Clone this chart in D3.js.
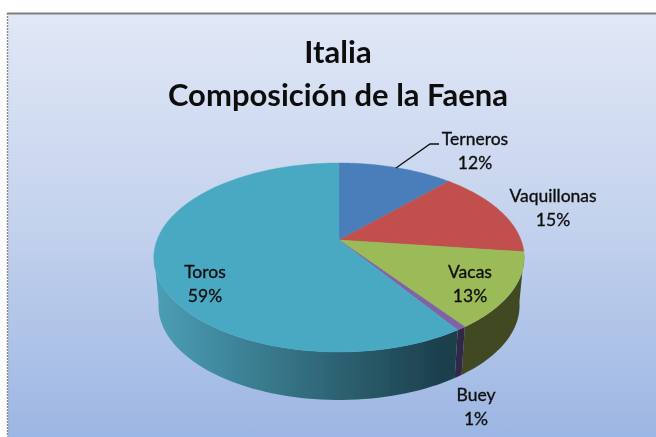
<!DOCTYPE html>
<html lang="es">
<head>
<meta charset="utf-8">
<title>Italia - Composición de la Faena</title>
<style>
  html, body { margin: 0; padding: 0; background: #fff; }
  svg { display: block; }
  text { font-family: Lato, "Open Sans", sans-serif; fill: #111; }
</style>
<script src="https://d3js.org/d3.v7.min.js"></script>
</head>
<body>
<div class="chart"></div>
<script>
const categories = ["Terneros", "Vaquillonas", "Vacas", "Buey", "Toros"];
const shares = [12, 15, 13, 0.7, 59.3];
const topColors = ["#4a7ebb", "#c0504d", "#9bbb59", "#8064a2", "#4aa9c3"];
const titleLines = ["Italia", "Composición de la Faena"];

const width = 656, height = 437;

// pie seen in perspective: apex is not the middle of the ellipse
const apex = { x: 339, y: 240 },
  radX = 182, radY = 91.3, persp = 0.185, depth = 48, shrink = 0.975;

const project = a => {
  const u = Math.sin(a), v = Math.cos(a), w = 1 + persp * v;
  return [apex.x + radX * u / w, apex.y - radY * v / w];
};
const lower = p => [apex.x + (p[0] - apex.x) * shrink, p[1] + depth];

const rim = (a0, a1) => d3.range(0, 61).map(i => project(a0 + (a1 - a0) * i / 60));
const line = d3.line();

const svg = d3.select(".chart").append("svg")
  .attr("width", width)
  .attr("height", height);

const defs = svg.append("defs");

const bg = defs.append("linearGradient").attr("id", "bg")
  .attr("x1", 0).attr("y1", 0).attr("x2", 0).attr("y2", 1);
bg.append("stop").attr("offset", "0%").attr("stop-color", "#e1e8f6");
bg.append("stop").attr("offset", "50%").attr("stop-color", "#c3d2ed");
bg.append("stop").attr("offset", "100%").attr("stop-color", "#9cb6e3");

const wall = defs.append("linearGradient").attr("id", "wallToros")
  .attr("gradientUnits", "userSpaceOnUse")
  .attr("x1", 153).attr("y1", 0).attr("x2", 524).attr("y2", 0);
wall.append("stop").attr("offset", "0%").attr("stop-color", "#4b9fb7");
wall.append("stop").attr("offset", "50%").attr("stop-color", "#2d6272");
wall.append("stop").attr("offset", "78%").attr("stop-color", "#1c3f4c");
wall.append("stop").attr("offset", "100%").attr("stop-color", "#1c3f4c");

defs.append("filter").attr("id", "soft")
  .append("feGaussianBlur").attr("stdDeviation", 0.45);

// chart area, the frame is only visible on top and left
svg.append("rect")
  .attr("x", 8).attr("y", 14)
  .attr("width", width - 8).attr("height", height - 14)
  .attr("fill", "url(#bg)");
svg.append("path")
  .attr("d", line([[7, 13.5], [width, 13.5]]))
  .attr("stroke", "#808080")
  .attr("stroke-width", 2);
svg.append("path")
  .attr("d", line([[7.5, 13], [7.5, height]]))
  .attr("stroke", "#8a8a8a")
  .attr("stroke-width", 1.4)
  .attr("stroke-dasharray", "2 1");

const chart = svg.append("g").attr("filter", "url(#soft)");

const slices = d3.pie().sort(null).value(d => d)(shares);

// side walls, only the part of the rim facing the viewer
const turnRight = 1.72, turnLeft = 2 * Math.PI - 1.72;
const wallFill = ["#404a22", "#404a22", "#404a22", "#33284a", "url(#wallToros)"];

chart.append("g").selectAll("path")
  .data(slices)
  .join("path")
  .attr("d", d => {
    const a0 = Math.max(d.startAngle, turnRight), a1 = Math.min(d.endAngle, turnLeft);
    if (a1 <= a0) return null;
    const edge = rim(a0, a1);
    return line(edge.concat(edge.map(lower).reverse())) + "Z";
  })
  .attr("fill", (d, i) => wallFill[i]);

// top face
chart.append("g").selectAll("path")
  .data(slices)
  .join("path")
  .attr("d", d => line([[apex.x, apex.y]].concat(rim(d.startAngle, d.endAngle))) + "Z")
  .attr("fill", (d, i) => topColors[i])
  .attr("stroke", (d, i) => topColors[i])
  .attr("stroke-width", 0.4);

// leader for Terneros
chart.append("path")
  .attr("d", line([[396, 168], [430, 144], [439, 144]]))
  .attr("fill", "none")
  .attr("stroke", "#111")
  .attr("stroke-width", 1.3);

const title = chart.append("g")
  .attr("text-anchor", "middle")
  .style("font-weight", "bold")
  .style("font-size", "31px");
title.selectAll("text")
  .data(titleLines)
  .join("text")
  .attr("x", 338)
  .attr("y", (d, i) => 63 + i * 42.5)
  .text(d => d);

// label centres, name on the first line and the share under it
const labelX = [475, 553, 470, 476, 205];
const labelY = [145, 202, 278, 401, 278];

const labels = chart.append("g")
  .attr("text-anchor", "middle")
  .style("font-size", "17.5px")
  .style("stroke", "#111")
  .style("stroke-width", 0.35);
labels.selectAll("text.name")
  .data(categories)
  .join("text")
  .attr("class", "name")
  .attr("x", (d, i) => labelX[i])
  .attr("y", (d, i) => labelY[i])
  .text(d => d);
labels.selectAll("text.share")
  .data(shares)
  .join("text")
  .attr("class", "share")
  .attr("x", (d, i) => labelX[i])
  .attr("y", (d, i) => labelY[i] + 24)
  .text(d => Math.round(d) + "%");
</script>
</body>
</html>
